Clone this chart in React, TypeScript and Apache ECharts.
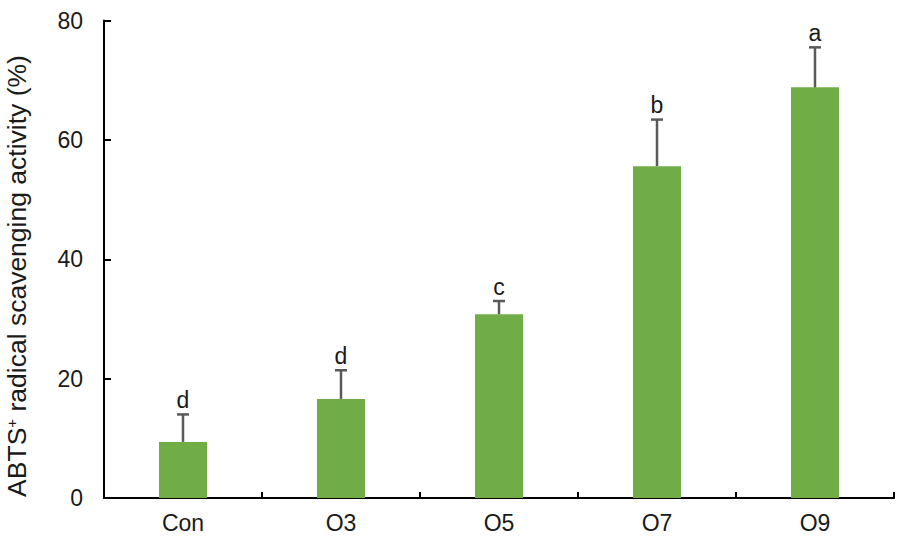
import React, { useEffect, useRef } from "react";
import * as echarts from "echarts";

const categories = ["Con", "O3", "O5", "O7", "O9"];
const means = [9.4, 16.6, 30.8, 55.6, 68.8];
const errors = [4.6, 4.8, 2.2, 7.8, 6.7];
const letters = ["d", "d", "c", "b", "a"];
const yTicks = { min: 0, max: 80, interval: 20 };
const yTitle = ["ABTS", "+", " radical scavenging activity (%)"];

const FONT = "'Liberation Sans', Arial, sans-serif";

export default function App() {
  const ref = useRef<HTMLDivElement>(null);
  useEffect(() => {
    if (!ref.current) return;
    const chart = echarts.init(ref.current, null, { renderer: "svg" });
    const errData = categories.map((c, i) => [i, means[i], means[i] + errors[i]]);
    chart.setOption({
      animation: false,
      textStyle: { fontFamily: FONT },
      grid: { left: 104, right: 7, top: 20.5, bottom: 42, containLabel: false },
      graphic: [
        {
          type: "text",
          x: 17,
          y: 276,
          rotation: Math.PI / 2,
          style: {
            text: `{a|${yTitle[0]}}{s|${yTitle[1]}}{a|${yTitle[2]}}`,
            textAlign: "center",
            textVerticalAlign: "middle",
            rich: {
              a: { fontSize: 26.5, fill: "#1a1a1a", fontFamily: FONT },
              s: { fontSize: 15, fill: "#1a1a1a", fontFamily: FONT, padding: [0, 0, 11, 0] },
            },
          },
        },
      ],
      xAxis: {
        type: "category",
        data: categories,
        axisLine: { lineStyle: { color: "#000", width: 2 } },
        axisTick: { show: true, length: 6, inside: true, lineStyle: { color: "#000", width: 2 } },
        axisLabel: { color: "#1a1a1a", fontSize: 23, fontFamily: FONT, margin: 13 },
      },
      yAxis: {
        type: "value",
        min: yTicks.min,
        max: yTicks.max,
        interval: yTicks.interval,
        splitLine: { show: false },
        axisLine: { show: true, lineStyle: { color: "#000", width: 2 } },
        axisTick: { show: true, length: 7, inside: true, lineStyle: { color: "#000", width: 2 } },
        axisLabel: { color: "#1a1a1a", fontSize: 23, fontFamily: FONT, margin: 21 },
      },
      series: [
        {
          type: "bar",
          data: means,
          barWidth: 48,
          itemStyle: { color: "#70AD47" },
          z: 2,
        },
        {
          type: "custom",
          data: errData,
          z: 3,
          renderItem: (params: any, api: any) => {
            const i = api.value(0);
            const top = api.coord([i, api.value(1)]);
            const hi = api.coord([i, api.value(2)]);
            const x = top[0];
            const cap = 6;
            const style = { stroke: "#595959", lineWidth: 2.5 };
            return {
              type: "group",
              children: [
                { type: "line", shape: { x1: x, y1: top[1], x2: x, y2: hi[1] }, style },
                { type: "line", shape: { x1: x - cap, y1: hi[1], x2: x + cap, y2: hi[1] }, style },
                {
                  type: "text",
                  x: x,
                  y: hi[1] - 3,
                  style: {
                    text: letters[params.dataIndex],
                    textAlign: "center",
                    textVerticalAlign: "bottom",
                    fontSize: 23,
                    fontFamily: FONT,
                    fill: "#1a1a1a",
                  },
                },
              ],
            };
          },
        },
      ],
    });
    return () => chart.dispose();
  }, []);
  return (
    <div
      ref={ref}
      style={{ position: "absolute", left: 0, top: 0, width: 901, height: 540 }}
    />
  );
}
